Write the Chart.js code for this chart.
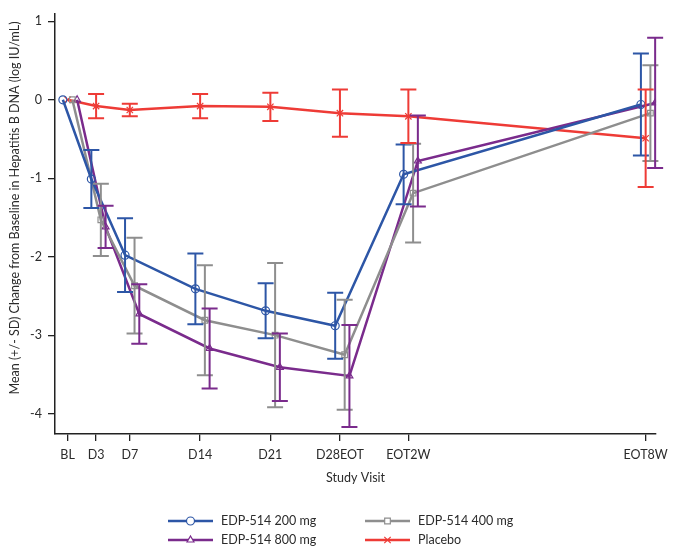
<!DOCTYPE html>
<html lang=en>
<head>
<meta charset="utf-8">
<title>HBV DNA change from baseline</title>
<script src="https://cdn.jsdelivr.net/npm/chart.js@4.4.1/dist/chart.umd.min.js"></script>
<style>
html, body { margin: 0; padding: 0; background: #fff; }
</style>
</head>
<body>
<canvas id="myChart" width="674" height="554"></canvas>
<script>
// visits and where they sit along the x axis (study-day-ish, as plotted)
var visits = ["BL", "D3", "D7", "D14", "D21", "D28EOT", "EOT2W", "EOT8W"];
var visitX = [0, 3, 6.55, 13.96, 21.36, 28.69, 35.9, 60.9];
var yTicks = [-4, -3, -2, -1, 0, 1];

// mean change and SD per visit
var mean200 = [0, -1.01, -1.98, -2.41, -2.69, -2.88, -0.95, -0.06];
var sd200   = [0, 0.37, 0.47, 0.45, 0.35, 0.42, 0.38, 0.65];
var mean400 = [0, -1.53, -2.37, -2.81, -3.00, -3.25, -1.19, -0.17];
var sd400   = [0, 0.46, 0.61, 0.70, 0.92, 0.70, 0.63, 0.61];
var mean800 = [0, -1.62, -2.73, -3.17, -3.41, -3.52, -0.78, -0.04];
var sd800   = [0, 0.27, 0.38, 0.51, 0.43, 0.65, 0.58, 0.83];
var meanPbo = [0, -0.08, -0.13, -0.08, -0.09, -0.17, -0.21, -0.49];
var sdPbo   = [0, 0.155, 0.08, 0.155, 0.18, 0.30, 0.34, 0.62];

var yTitle = "Mean (+/- SD) Change from Baseline in Hepatitis B DNA (log IU/mL)";
var fontFam = "Lato, 'Open Sans', sans-serif";
var txtCol = "#2b2b2b";

function pts(means, shift) {
	return means.map(function (m, i) { return { x: visitX[i] + shift, y: m }; });
}

function series(label, means, sds, color, style, shift) {
	return {
		label: label,
		data: pts(means, shift),
		sd: sds,
		borderColor: color,
		backgroundColor: "rgba(0,0,0,0)",
		borderWidth: 2.5,
		pointStyle: style,
		pointRadius: style === "crossRot" ? 4.5 : 4,
		pointBorderWidth: 1.2,
		pointBorderColor: color,
		pointBackgroundColor: "rgba(0,0,0,0)",
		tension: 0
	};
}

var errorBars = {
	id: "errorBars",
	afterDatasetsDraw: function (chart) {
		var ctx = chart.ctx, ys = chart.scales.y;
		chart.data.datasets.forEach(function (ds, i) {
			var meta = chart.getDatasetMeta(i);
			ctx.save();
			ctx.strokeStyle = ds.borderColor;
			ctx.lineWidth = 2;
			meta.data.forEach(function (pt, j) {
				var s = ds.sd[j];
				if (!s) return;
				var m = ds.data[j].y;
				var top = ys.getPixelForValue(m + s);
				var bot = ys.getPixelForValue(m - s);
				ctx.beginPath();
				ctx.moveTo(pt.x, top); ctx.lineTo(pt.x, bot);
				ctx.moveTo(pt.x - 8, top); ctx.lineTo(pt.x + 8, top);
				ctx.moveTo(pt.x - 8, bot); ctx.lineTo(pt.x + 8, bot);
				ctx.stroke();
			});
			ctx.restore();
		});
	}
};

// y title sits a bit above the centre of the axis in the original
var sideTitle = {
	id: "sideTitle",
	afterDraw: function (chart) {
		var ctx = chart.ctx;
		ctx.save();
		ctx.translate(14.5, 208);
		ctx.rotate(-Math.PI / 2);
		ctx.fillStyle = txtCol;
		ctx.font = "12.5px " + fontFam;
		ctx.textAlign = "center";
		ctx.textBaseline = "middle";
		ctx.fillText(yTitle, 0, 0);
		ctx.restore();
	}
};

// two-column legend under the plot
var legendBox = {
	id: "legendBox",
	afterDraw: function (chart) {
		var ctx = chart.ctx;
		var cols = [168, 365], rows = [521, 540];
		chart.data.datasets.forEach(function (ds, i) {
			var x = cols[i % 2], y = rows[Math.floor(i / 2)];
			ctx.save();
			ctx.strokeStyle = ds.borderColor;
			ctx.lineWidth = 2.5;
			ctx.beginPath();
			ctx.moveTo(x, y); ctx.lineTo(x + 45, y);
			ctx.stroke();
			ctx.lineWidth = 1.2;
			ctx.fillStyle = "#fff";
			Chart.helpers.drawPoint(ctx, {
				pointStyle: ds.pointStyle, radius: ds.pointRadius, rotation: 0, borderWidth: 1.2
			}, x + 22.5, y);
			ctx.fillStyle = txtCol;
			ctx.font = "12.5px " + fontFam;
			ctx.textBaseline = "middle";
			ctx.textAlign = "left";
			ctx.fillText(ds.label, x + 53, y);
			ctx.restore();
		});
	}
};

var ctx = document.getElementById("myChart");
var myChart = new Chart(ctx, {
	type: "line",
	data: {
		datasets: [
			series("EDP-514 200 mg", mean200, sd200, "#2d56a6", "circle", -0.5),
			series("EDP-514 400 mg", mean400, sd400, "#8e8e8e", "rect", 0.5),
			series("EDP-514 800 mg", mean800, sd800, "#7a2b8c", "triangle", 1.0),
			series("Placebo", meanPbo, sdPbo, "#ee3b36", "crossRot", 0)
		]
	},
	options: {
		responsive: false,
		animation: false,
		layout: { padding: { left: 0, right: 14, top: 7, bottom: 69 } },
		plugins: { legend: { display: false }, tooltip: { enabled: false } },
		scales: {
			x: {
				type: "linear",
				min: -1.33,
				max: 62.0,
				afterBuildTicks: function (scale) {
					scale.ticks = visitX.map(function (v) { return { value: v }; });
				},
				afterFit: function (scale) { scale.height = 51; },
				ticks: {
					autoSkip: false,
					maxRotation: 0,
					padding: 6,
					color: txtCol,
					font: { family: fontFam, size: 12.5 },
					callback: function (v) {
						var k = visitX.indexOf(v);
						return k >= 0 ? visits[k] : "";
					}
				},
				grid: { drawOnChartArea: false, drawTicks: true, tickLength: 7, color: "#222", lineWidth: 1.3 },
				border: { display: true, color: "#222", width: 1.5 },
				title: {
					display: true,
					text: "Study Visit",
					color: txtCol,
					font: { family: fontFam, size: 12.5 },
					padding: { top: 8, bottom: 0 }
				}
			},
			y: {
				min: -4.26,
				max: 1.1,
				afterBuildTicks: function (scale) {
					scale.ticks = yTicks.map(function (v) { return { value: v }; });
				},
				afterFit: function (scale) { scale.width = 55; },
				ticks: {
					padding: 6,
					color: txtCol,
					font: { family: fontFam, size: 12.5 }
				},
				grid: { drawOnChartArea: false, drawTicks: true, tickLength: 7, color: "#222", lineWidth: 1.3 },
				border: { display: true, color: "#222", width: 1.5 },
				title: { display: false }
			}
		}
	},
	plugins: [errorBars, sideTitle, legendBox]
});
</script>
</body>
</html>
